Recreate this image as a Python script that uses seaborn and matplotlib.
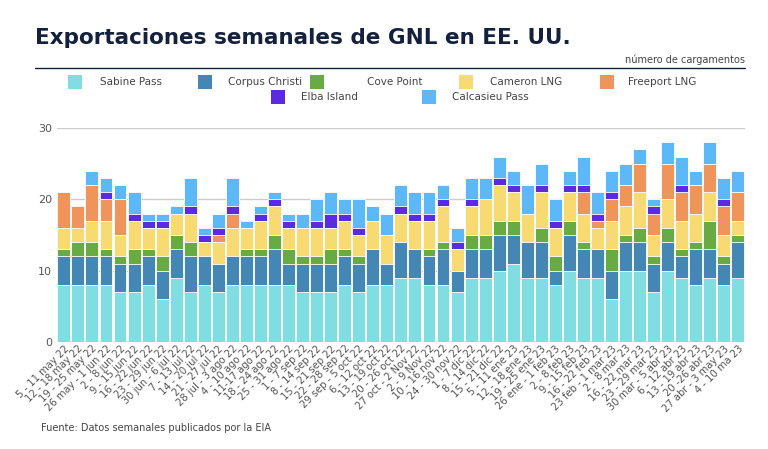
import numpy as np
import pandas as pd
import matplotlib
matplotlib.use("Agg")
import matplotlib.pyplot as plt
from matplotlib.patches import Rectangle
from matplotlib.lines import Line2D
import seaborn as sns

weeks = ["5 - 11 may 22","12 - 18 may 22","19 - 25 may 22","26 may - 1 jun 22","2 - 8 jun 22",
 "9 - 15 jun 22","16 - 22 jun 22","23 - 29 jun 22","30 jun - 6 jul 22","7 - 13 jul 22",
 "14 - 20 jul 22","21 - 27 jul 22","28 jul - 3 ago 22","4 - 10 ago 22","11-17 ago 22",
 "18 - 24 ago 22","25 - 31 ago 22","1 - 7 sep 22","8 - 14 sep 22","15 - 21 sep 22",
 "22 - 28 sep 22","29 sep - 5 oct 22","6 - 12 oct 22","13 - 19 oct 22","20 - 26 oct 22",
 "27 oct - 2 Nov 22","2 - 9 Nov 22","10 - 16 nov 22","24 - 30 nov 22","1 - 7 dic 22",
 "8 - 14 dic 22","15 - 21 dic 22","5 - 11 ene 23","12 - 18 ene 23","19 - 25 ene 23",
 "26 ene - 1 feb 23","2 - 8 feb 23","9 - 15 feb 23","16 - 22 feb 23","23 feb - 1 mar 23",
 "2 - 8 mar 23","16 - 22 mar 23","23 - 29 mar 23","30 mar - 5 abr 23","6 - 12 abr 23",
 "13 - 19 abr 23","20 -26 abr 23","27 abr - 3 may 23","4 - 10 ma 23"]

sabine_pass    = [8,8,8,8,7,7,8,6,9,7,8,7,8,8,8,8,8,7,7,7,8,7,8,8,9,9,8,8,7,9,9,10,11,9,9,8,10,9,9,6,10,10,7,10,9,8,9,8,9]
corpus_christi = [4,4,4,4,4,4,4,4,4,5,4,4,4,4,4,5,3,4,4,4,4,4,5,3,5,4,4,5,3,4,4,5,4,5,5,2,5,4,4,4,4,4,4,4,3,5,4,3,5]
cove_point     = [1,2,2,1,1,2,1,2,2,2,0,0,0,1,1,2,2,1,1,2,1,1,0,0,0,0,1,1,0,2,2,2,2,0,2,2,2,1,0,3,1,2,1,2,1,1,4,1,1]
cameron_lng    = [3,2,3,4,3,4,3,4,3,4,2,3,4,3,4,4,3,4,4,3,4,3,4,4,4,4,4,5,3,4,5,5,4,4,5,4,4,4,3,4,4,5,3,4,4,4,4,3,2]
freeport_lng   = [5,3,5,3,5,0,0,0,0,0,0,1,2,0,0,0,0,0,0,0,0,0,0,0,0,0,0,0,0,0,0,0,0,0,0,0,0,3,1,3,3,4,3,5,4,4,4,4,4]
elba_island    = [0,0,0,1,0,1,1,1,0,1,1,1,1,0,1,1,1,0,1,2,1,1,0,0,1,1,1,1,1,1,0,1,1,0,1,1,1,1,1,1,0,0,1,0,1,0,0,1,0]
calcasieu_pass = [0,0,2,2,2,3,1,1,1,4,1,2,4,1,1,1,1,2,3,3,2,4,2,3,3,3,3,2,2,3,3,3,2,4,3,3,2,4,3,3,3,2,1,3,4,2,3,3,3]

series = ["Sabine Pass","Corpus Christi","Cove Point","Cameron LNG","Freeport LNG","Elba Island","Calcasieu Pass"]
colors = ["#80DEE3","#4587B4","#68AB43","#F8DA72","#EF955B","#5A2BE0","#5DB8F7"]
values = [sabine_pass, corpus_christi, cove_point, cameron_lng, freeport_lng, elba_island, calcasieu_pass]

df = pd.DataFrame(dict(zip(series, values)))
cum = df[series].cumsum(axis=1)
cum["week"] = weeks

sns.set_style("white")
fig = plt.figure(figsize=(7.68, 4.49), dpi=100)
ax = fig.add_axes([0.074, 0.238, 0.896, 0.477])
for s, c in reversed(list(zip(series, colors))):
    sns.barplot(data=cum, x="week", y=s, color=c, ax=ax, width=0.92,
                edgecolor="white", linewidth=0.6, saturation=1)
ax.set_ylim(0, 30)
ax.set_yticks([0, 10, 20, 30])
ax.yaxis.grid(True, color="#cccccc", linewidth=1)
ax.set_axisbelow(True)
for sp in ax.spines.values():
    sp.set_visible(False)
ax.axhline(0, color="#bbbbbb", linewidth=1)
ax.set_xlabel(""); ax.set_ylabel("")
ax.tick_params(axis="y", labelsize=8, colors="#555555", length=0)
ax.tick_params(axis="x", labelsize=7.2, colors="#555555", length=0, pad=1)
ax.set_xticks(range(len(weeks)))
ax.set_xticklabels(weeks, rotation=45, ha="right", rotation_mode="anchor")
ax.set_xlim(-0.5, len(weeks) - 0.5)

fig.text(0.045, 0.915, "Exportaciones semanales de GNL en EE. UU.", fontsize=15.5,
         fontweight="bold", color="#13213f", va="center")
fig.text(0.97, 0.868, "número de cargamentos", fontsize=7, color="#444444", ha="right", va="center")
fig.add_artist(Line2D([0.045, 0.97], [0.848, 0.848], color="#13213f", linewidth=1))
fig.text(0.053, 0.04, "Fuente: Datos semanales publicados por la EIA", fontsize=7, color="#444444")

leg = [(68, 100, 82, 0), (198, 228, 82, 1), (310, 367, 82, 2), (459, 490, 82, 3),
       (600, 628, 82, 4), (271, 301, 97, 5), (422, 452, 97, 6)]
for x, tx, y, i in leg:
    fig.add_artist(Rectangle((x / 768, 1 - (y + 7) / 449), 14 / 768, 14 / 449,
                             facecolor=colors[i], edgecolor="none", transform=fig.transFigure))
    fig.text(tx / 768, 1 - y / 449, series[i], fontsize=7.5, color="#444444", va="center")

fig.savefig("out.png", dpi=100)
